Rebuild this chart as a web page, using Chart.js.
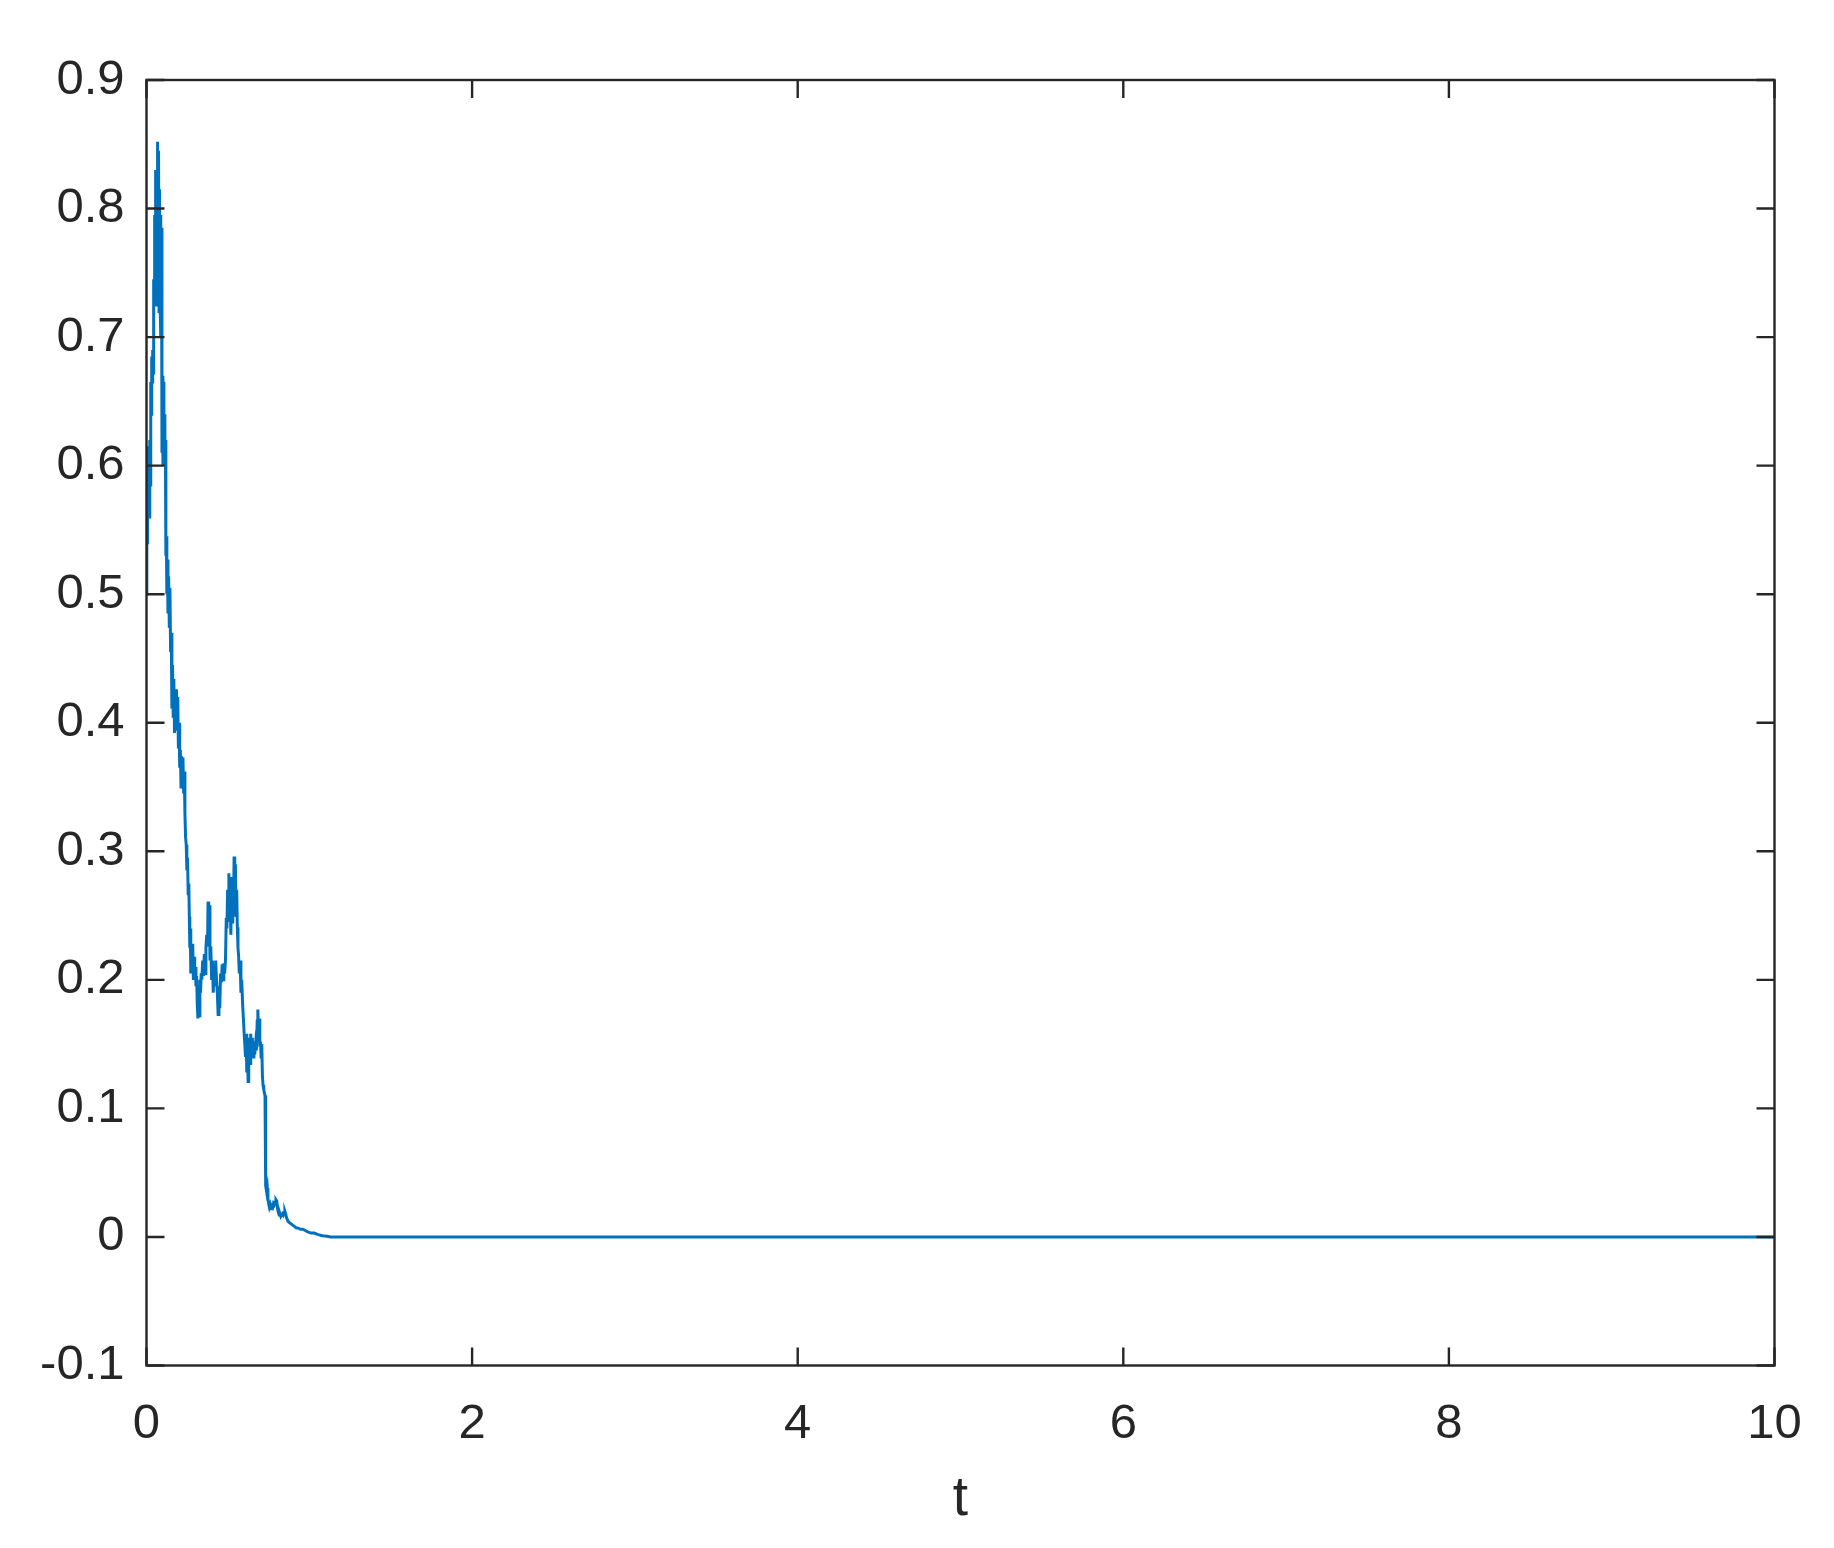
<!DOCTYPE html>
<html>
<head>
<meta charset="utf-8">
<script src="https://cdn.jsdelivr.net/npm/chart.js@4/dist/chart.umd.min.js"></script>
<style>
  html, body { margin: 0; padding: 0; background: #ffffff; }
  #wrap { width: 1834px; height: 1548px; }
</style>
</head>
<body>
<div id="wrap"><canvas id="plot" width="1834" height="1548"></canvas></div>
<script>
// axis ticks
var xTicks = [0, 2, 4, 6, 8, 10];
var yTicks = [-0.1, 0, 0.1, 0.2, 0.3, 0.4, 0.5, 0.6, 0.7, 0.8, 0.9];

// t values
var tValues = [
  0.000, 0.002, 0.004, 0.006, 0.008, 0.010, 0.012, 0.014, 0.017, 0.020,
  0.023, 0.026, 0.029, 0.032, 0.035, 0.038, 0.041, 0.044, 0.047, 0.050,
  0.053, 0.056, 0.059, 0.062, 0.065, 0.068, 0.071, 0.074, 0.077, 0.080,
  0.083, 0.086, 0.089, 0.092, 0.095, 0.098, 0.101, 0.104, 0.107, 0.110,
  0.113, 0.116, 0.119, 0.122, 0.125, 0.128, 0.132, 0.136, 0.140, 0.144,
  0.148, 0.152, 0.156, 0.160, 0.164, 0.168, 0.172, 0.176, 0.180, 0.184,
  0.188, 0.192, 0.196, 0.200, 0.204, 0.208, 0.212, 0.216, 0.220, 0.224,
  0.228, 0.232, 0.236, 0.240, 0.244, 0.248, 0.252, 0.256, 0.260, 0.263,
  0.266, 0.269, 0.272, 0.276, 0.280, 0.284, 0.288, 0.292, 0.296, 0.300,
  0.304, 0.308, 0.312, 0.316, 0.320, 0.324, 0.328, 0.332, 0.336, 0.340,
  0.345, 0.350, 0.355, 0.360, 0.365, 0.370, 0.375, 0.378, 0.382, 0.386,
  0.390, 0.395, 0.400, 0.405, 0.410, 0.415, 0.420, 0.425, 0.430, 0.435,
  0.440, 0.445, 0.450, 0.455, 0.460, 0.465, 0.470, 0.475, 0.480, 0.485,
  0.490, 0.494, 0.498, 0.502, 0.506, 0.510, 0.514, 0.518, 0.522, 0.526,
  0.530, 0.534, 0.538, 0.542, 0.546, 0.550, 0.554, 0.558, 0.562, 0.566,
  0.570, 0.575, 0.580, 0.585, 0.590, 0.595, 0.600, 0.604, 0.608, 0.612,
  0.616, 0.620, 0.624, 0.628, 0.632, 0.636, 0.640, 0.645, 0.650, 0.655,
  0.660, 0.665, 0.670, 0.675, 0.680, 0.684, 0.688, 0.692, 0.696, 0.700,
  0.704, 0.708, 0.712, 0.716, 0.720, 0.724, 0.728, 0.730, 0.734, 0.738,
  0.742, 0.746, 0.750, 0.755, 0.760, 0.765, 0.770, 0.775, 0.780, 0.785,
  0.790, 0.795, 0.800, 0.805, 0.810, 0.815, 0.820, 0.825, 0.830, 0.835,
  0.840, 0.845, 0.850, 0.855, 0.860, 0.870, 0.880, 0.890, 0.900, 0.910,
  0.920, 0.930, 0.945, 0.960, 0.975, 0.990, 1.010, 1.030, 1.050, 1.080,
  1.110, 1.130, 10.0
];

// y values
var yValues = [
  0.500, 0.560, 0.540, 0.600, 0.555, 0.615, 0.565, 0.600, 0.560, 0.620,
  0.585, 0.665, 0.640, 0.685, 0.665, 0.690, 0.672, 0.745, 0.730, 0.795,
  0.735, 0.830, 0.725, 0.805, 0.730, 0.852, 0.760, 0.845, 0.720, 0.815,
  0.730, 0.795, 0.700, 0.785, 0.610, 0.670, 0.600, 0.665, 0.615, 0.640,
  0.600, 0.620, 0.530, 0.545, 0.500, 0.527, 0.485, 0.514, 0.475, 0.505,
  0.455, 0.470, 0.411, 0.445, 0.405, 0.434, 0.392, 0.425, 0.400, 0.426,
  0.395, 0.420, 0.380, 0.400, 0.365, 0.379, 0.350, 0.374, 0.352, 0.373,
  0.345, 0.362, 0.330, 0.311, 0.305, 0.285, 0.295, 0.267, 0.275, 0.249,
  0.225, 0.240, 0.205, 0.226, 0.210, 0.228, 0.200, 0.218, 0.205, 0.210,
  0.195, 0.203, 0.180, 0.170, 0.185, 0.172, 0.200, 0.190, 0.205, 0.200,
  0.215, 0.203, 0.220, 0.205, 0.225, 0.235, 0.226, 0.261, 0.245, 0.258,
  0.215, 0.226, 0.200, 0.215, 0.190, 0.210, 0.195, 0.215, 0.200, 0.190,
  0.173, 0.195, 0.178, 0.205, 0.198, 0.212, 0.200, 0.213, 0.205, 0.215,
  0.248, 0.240, 0.270, 0.250, 0.283, 0.245, 0.280, 0.235, 0.265, 0.245,
  0.275, 0.250, 0.296, 0.265, 0.290, 0.250, 0.270, 0.241, 0.225, 0.218,
  0.205, 0.215, 0.190, 0.200, 0.182, 0.170, 0.158, 0.150, 0.140, 0.158,
  0.128, 0.150, 0.121, 0.140, 0.155, 0.135, 0.158, 0.145, 0.155, 0.140,
  0.152, 0.142, 0.150, 0.145, 0.168, 0.177, 0.155, 0.170, 0.148, 0.152,
  0.140, 0.150, 0.125, 0.118, 0.115, 0.112, 0.110, 0.043, 0.040, 0.035,
  0.038, 0.030, 0.026, 0.023, 0.025, 0.022, 0.024, 0.023, 0.026, 0.025,
  0.027, 0.029, 0.028, 0.022, 0.019, 0.017, 0.018, 0.016, 0.017, 0.018,
  0.017, 0.019, 0.020, 0.018, 0.015, 0.012, 0.011, 0.010, 0.009, 0.008,
  0.007, 0.007, 0.006, 0.006, 0.005, 0.004, 0.003, 0.003, 0.002, 0.001,
  0.0005, 0.000, 0.000
];

var axisColor = '#262626';
var lineColor = '#0072BD';

var points = tValues.map(function(t, i) {
  return { x: t, y: yValues[i] };
});

function fmtY(v) {
  var r = Math.round(v * 10) / 10;
  return r === 0 ? '0' : String(r);
}

// box around the axes with inward ticks on all four sides (matlab look)
var boxPlugin = {
  id: 'boxAxes',
  afterDatasetsDraw: function(chart) {
    var ctx = chart.ctx;
    var a = chart.chartArea;
    var xs = chart.scales.x;
    var ys = chart.scales.y;
    var len = 18;
    ctx.save();
    ctx.strokeStyle = axisColor;
    ctx.lineWidth = 2.4;
    ctx.beginPath();
    xTicks.forEach(function(v) {
      var px = xs.getPixelForValue(v);
      ctx.moveTo(px, a.bottom);
      ctx.lineTo(px, a.bottom - len);
      ctx.moveTo(px, a.top);
      ctx.lineTo(px, a.top + len);
    });
    yTicks.forEach(function(v) {
      var py = ys.getPixelForValue(v);
      ctx.moveTo(a.left, py);
      ctx.lineTo(a.left + len, py);
      ctx.moveTo(a.right, py);
      ctx.lineTo(a.right - len, py);
    });
    ctx.stroke();
    ctx.strokeRect(a.left, a.top, a.right - a.left, a.bottom - a.top);
    ctx.restore();
  }
};

var ctx = document.getElementById('plot').getContext('2d');
var chart = new Chart(ctx, {
  type: 'line',
  data: {
    datasets: [{
      data: points,
      borderColor: lineColor,
      borderWidth: 3,
      pointRadius: 0,
      tension: 0,
      fill: false
    }]
  },
  options: {
    responsive: false,
    animation: false,
    layout: { padding: { top: 80, right: 59.5, left: 0, bottom: 0 } },
    plugins: {
      legend: { display: false },
      tooltip: { enabled: false }
    },
    scales: {
      x: {
        type: 'linear',
        min: 0,
        max: 10,
        afterFit: function(s) { s.height = 182.5; },
        afterBuildTicks: function(s) {
          s.ticks = xTicks.map(function(v) { return { value: v }; });
        },
        ticks: {
          color: axisColor,
          font: { family: 'Liberation Sans', size: 49 },
          padding: 30,
          maxRotation: 0,
          autoSkip: false,
          callback: function(v) { return String(v); }
        },
        grid: { display: false, drawTicks: false },
        border: { display: false },
        title: {
          display: true,
          text: 't',
          color: axisColor,
          font: { family: 'Liberation Sans', size: 55 },
          padding: { top: 0, bottom: 15 }
        }
      },
      y: {
        type: 'linear',
        min: -0.1,
        max: 0.9,
        afterFit: function(s) { s.width = 146.5; },
        afterBuildTicks: function(s) {
          s.ticks = yTicks.map(function(v) { return { value: v }; });
        },
        ticks: {
          color: axisColor,
          font: { family: 'Liberation Sans', size: 49 },
          padding: 22,
          autoSkip: false,
          callback: function(v) { return fmtY(v); }
        },
        grid: { display: false, drawTicks: false },
        border: { display: false }
      }
    }
  },
  plugins: [boxPlugin]
});
</script>
</body>
</html>
